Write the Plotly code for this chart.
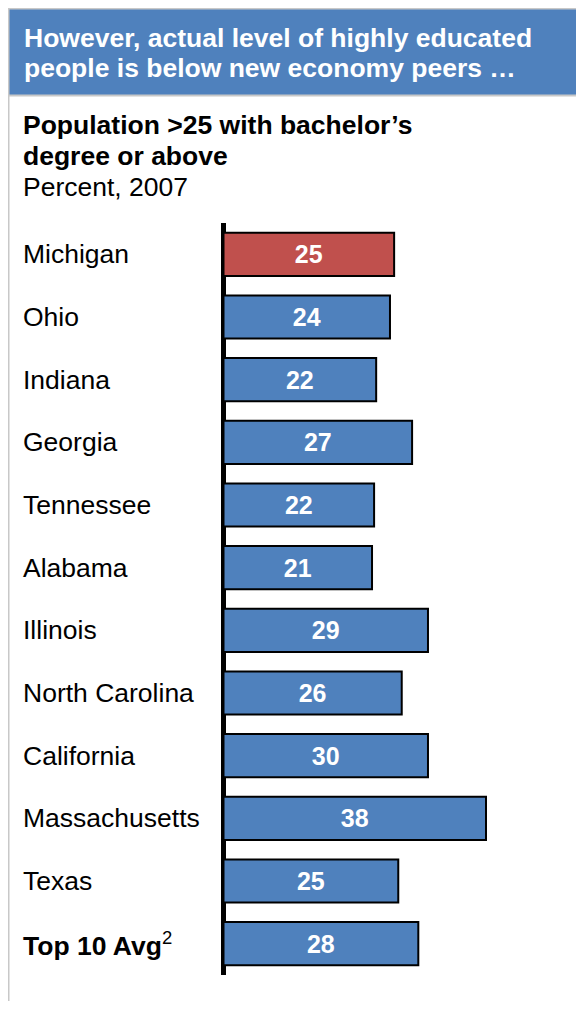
import plotly.graph_objects as go

# ---------------- data ----------------
categories = ["Michigan", "Ohio", "Indiana", "Georgia", "Tennessee", "Alabama",
              "Illinois", "North Carolina", "California", "Massachusetts", "Texas",
              "Top 10 Avg"]
values = [24.7, 24.1, 22.1, 27.3, 21.8, 21.5, 29.6, 25.8, 29.6, 38.0, 25.3, 28.2]
value_labels = ["25", "24", "22", "27", "22", "21", "29", "26", "30", "38", "25", "28"]
highlight = "Michigan"

header_lines = ["However, actual level of highly educated",
                "people is below new economy peers \u2026"]
title_lines = ["Population >25 with bachelor\u2019s", "degree or above"]
subtitle = "Percent, 2007"

# ---------------- layout constants ----------------
OFF = 8                      # page body margin in the browser
W_FIG, H_FIG = 584 - OFF, 1009 - 2 * OFF
FONT = "Arial, Liberation Sans, Helvetica, sans-serif"
FS = 26.5
FS_BAR = 25
BLUE = "#4F81BD"
RED = "#C0504D"
GRAY = "#C8C8C8"

# screen-pixel positions (measured on the reference)
X0_SCREEN = 223.5            # pixel of value 0
SCALE = 6.908                # pixels per percent
PLOT_LEFT_SCREEN = 200
PLOT_TOP_SCREEN = 223
PLOT_BOTTOM_SCREEN = 975

L = PLOT_LEFT_SCREEN - OFF
R = 0
T = PLOT_TOP_SCREEN - OFF
B = H_FIG - (PLOT_BOTTOM_SCREEN - OFF)
PW = W_FIG - L - R
PH = H_FIG - T - B

x_min = -(X0_SCREEN - PLOT_LEFT_SCREEN) / SCALE
x_max = x_min + PW / SCALE


def px(xs):
    """screen x -> paper x"""
    return (xs - OFF - L) / PW


def py(ys):
    """screen y -> paper y"""
    return (H_FIG - B - (ys - OFF)) / PH


colors = [RED if c == highlight else BLUE for c in categories]

fig = go.Figure()
fig.add_trace(go.Bar(
    y=categories,
    x=values,
    orientation="h",
    marker=dict(color=colors, line=dict(color="black", width=2)),
    text=value_labels,
    textposition="inside",
    insidetextanchor="middle",
    textangle=0,
    constraintext="none",
    textfont=dict(family=FONT, size=FS_BAR, color="white", weight="bold"),
    hoverinfo="skip",
))

shapes = [
    # header
    dict(type="rect", xref="paper", yref="paper", x0=px(8), x1=px(600), y0=py(8), y1=py(95),
         fillcolor=BLUE, line=dict(width=0), layer="below"),
    # outer frame
    dict(type="line", xref="paper", yref="paper", x0=px(8), x1=px(600), y0=py(8.5), y1=py(8.5),
         line=dict(color=GRAY, width=2)),
    dict(type="line", xref="paper", yref="paper", x0=px(8.5), x1=px(8.5), y0=py(8), y1=py(1020),
         line=dict(color=GRAY, width=2)),
    dict(type="line", xref="paper", yref="paper", x0=px(8), x1=px(600), y0=py(95.5), y1=py(95.5),
         line=dict(color=GRAY, width=2)),
]

annotations = []
for i, line in enumerate(header_lines):
    annotations.append(dict(text=f"<b>{line}</b>", xref="paper", yref="paper",
                            x=px(22), y=py([38, 68][i]), xanchor="left", yanchor="middle",
                            showarrow=False, font=dict(family=FONT, size=FS, color="white")))
for i, line in enumerate(title_lines):
    annotations.append(dict(text=f"<b>{line}</b>", xref="paper", yref="paper",
                            x=px(21), y=py([125, 156][i]), xanchor="left", yanchor="middle",
                            showarrow=False, font=dict(family=FONT, size=FS, color="black")))
annotations.append(dict(text=subtitle, xref="paper", yref="paper",
                        x=px(21), y=py(187), xanchor="left", yanchor="middle",
                        showarrow=False, font=dict(family=FONT, size=FS, color="black")))

for c in categories:
    label = "<b>Top 10 Avg</b><sup>2</sup>" if c == "Top 10 Avg" else c
    annotations.append(dict(text=label, xref="paper", yref="y", x=px(21), y=c,
                            xanchor="left", yanchor="middle", showarrow=False,
                            font=dict(family=FONT, size=FS, color="black")))

fig.update_layout(
    width=W_FIG, height=H_FIG,
    margin=dict(l=L, r=R, t=T, b=B, pad=0),
    paper_bgcolor="white", plot_bgcolor="white",
    showlegend=False,
    bargap=0.31,
    shapes=shapes,
    annotations=annotations,
    xaxis=dict(range=[x_min, x_max], showgrid=False, showticklabels=False, ticks="",
               zeroline=True, zerolinecolor="black", zerolinewidth=5, layer="above traces",
               fixedrange=True),
    yaxis=dict(categoryorder="array", categoryarray=categories, autorange=False,
               range=[len(categories) - 0.5, -0.5], showgrid=False, showticklabels=False,
               ticks="", zeroline=False, fixedrange=True),
)

fig.write_html("out.html")
